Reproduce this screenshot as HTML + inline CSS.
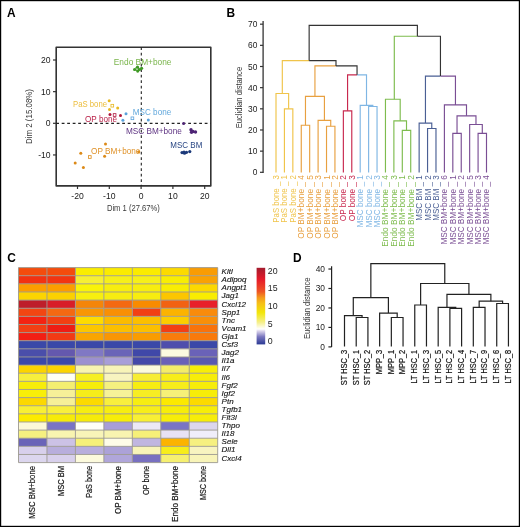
<!DOCTYPE html>
<html><head><meta charset="utf-8"><style>
html,body{margin:0;padding:0;background:#fff;}
#fig{position:relative;width:520px;height:527px;overflow:hidden;background:#fff;}
svg{position:absolute;left:0;top:0;will-change:transform;}
text{font-family:"Liberation Sans", sans-serif;}
</style></head><body><div id="fig">
<svg width="520" height="527" viewBox="0 0 520 527">
<rect x="0.6" y="0.6" width="518.8" height="525.8" fill="none" stroke="#000" stroke-width="1.2"/>
<text x="7.00" y="16.60" font-size="11.9" fill="#000" font-weight="bold" >A</text>
<text x="226.60" y="16.90" font-size="11.9" fill="#000" font-weight="bold" >B</text>
<text x="7.20" y="261.60" font-size="11.9" fill="#000" font-weight="bold" >C</text>
<text x="293.00" y="261.80" font-size="11.9" fill="#000" font-weight="bold" >D</text>
<rect x="56.2" y="47.3" width="154.6" height="138.6" fill="none" stroke="#333" stroke-width="1.6" stroke-linejoin="round"/>
<line x1="53.00" y1="60.00" x2="56.20" y2="60.00" stroke="#333" stroke-width="1.2" />
<text x="50.60" y="63.10" font-size="8.6" fill="#1a1a1a" text-anchor="end" >20</text>
<line x1="53.00" y1="91.65" x2="56.20" y2="91.65" stroke="#333" stroke-width="1.2" />
<text x="50.60" y="94.75" font-size="8.6" fill="#1a1a1a" text-anchor="end" >10</text>
<line x1="53.00" y1="123.30" x2="56.20" y2="123.30" stroke="#333" stroke-width="1.2" />
<text x="50.60" y="126.40" font-size="8.6" fill="#1a1a1a" text-anchor="end" >0</text>
<line x1="53.00" y1="154.95" x2="56.20" y2="154.95" stroke="#333" stroke-width="1.2" />
<text x="50.60" y="158.05" font-size="8.6" fill="#1a1a1a" text-anchor="end" >-10</text>
<line x1="77.50" y1="185.90" x2="77.50" y2="189.00" stroke="#333" stroke-width="1.2" />
<text x="77.50" y="198.80" font-size="8.6" fill="#1a1a1a" text-anchor="middle" >-20</text>
<line x1="109.30" y1="185.90" x2="109.30" y2="189.00" stroke="#333" stroke-width="1.2" />
<text x="109.30" y="198.80" font-size="8.6" fill="#1a1a1a" text-anchor="middle" >-10</text>
<line x1="141.10" y1="185.90" x2="141.10" y2="189.00" stroke="#333" stroke-width="1.2" />
<text x="141.10" y="198.80" font-size="8.6" fill="#1a1a1a" text-anchor="middle" >0</text>
<line x1="172.90" y1="185.90" x2="172.90" y2="189.00" stroke="#333" stroke-width="1.2" />
<text x="172.90" y="198.80" font-size="8.6" fill="#1a1a1a" text-anchor="middle" >10</text>
<line x1="204.70" y1="185.90" x2="204.70" y2="189.00" stroke="#333" stroke-width="1.2" />
<text x="204.70" y="198.80" font-size="8.6" fill="#1a1a1a" text-anchor="middle" >20</text>
<text x="133.40" y="211.30" font-size="9.2" fill="#3a3a3a" text-anchor="middle" textLength="53.00" lengthAdjust="spacingAndGlyphs" >Dim 1 (27.67%)</text>
<text x="32.10" y="116.50" font-size="9.2" fill="#3a3a3a" text-anchor="middle" transform="rotate(-90 32.10 116.50)" textLength="55.00" lengthAdjust="spacingAndGlyphs" >Dim 2 (15.08%)</text>
<line x1="56.20" y1="123.40" x2="210.80" y2="123.40" stroke="#222" stroke-width="1.1" stroke-dasharray="2.8 2.7"/>
<line x1="141.30" y1="47.30" x2="141.30" y2="185.90" stroke="#222" stroke-width="1.1" stroke-dasharray="2.8 2.7"/>
<text x="113.80" y="64.50" font-size="8.4" fill="#7ab54c" textLength="57.70" lengthAdjust="spacingAndGlyphs" >Endo BM+bone</text>
<text x="73.00" y="107.30" font-size="8.4" fill="#ecbd3c" textLength="34.00" lengthAdjust="spacingAndGlyphs" >PaS bone</text>
<text x="85.00" y="121.80" font-size="8.4" fill="#b81d45" textLength="32.00" lengthAdjust="spacingAndGlyphs" >OP bone</text>
<text x="132.80" y="115.30" font-size="8.4" fill="#62a8dc" textLength="38.40" lengthAdjust="spacingAndGlyphs" >MSC bone</text>
<text x="125.90" y="133.80" font-size="8.4" fill="#5e3382" textLength="55.90" lengthAdjust="spacingAndGlyphs" >MSC BM+bone</text>
<text x="170.30" y="148.20" font-size="8.4" fill="#2a4784" textLength="32.00" lengthAdjust="spacingAndGlyphs" >MSC BM</text>
<text x="91.10" y="154.30" font-size="8.4" fill="#df9127" textLength="49.30" lengthAdjust="spacingAndGlyphs" >OP BM+bone</text>
<circle cx="137.50" cy="67.20" r="1.6" fill="#3f9a25"/>
<circle cx="134.60" cy="69.50" r="1.6" fill="#3f9a25"/>
<circle cx="137.70" cy="71.10" r="1.6" fill="#3f9a25"/>
<circle cx="141.60" cy="68.30" r="1.6" fill="#3f9a25"/>
<circle cx="139.50" cy="69.50" r="1.6" fill="#3f9a25"/>
<rect x="135.90" y="67.70" width="2.6" height="2.6" fill="none" stroke="#3f9a25" stroke-width="0.8"/>
<circle cx="109.20" cy="100.80" r="1.5" fill="#e8b820"/>
<circle cx="117.70" cy="108.00" r="1.5" fill="#e8b820"/>
<circle cx="109.50" cy="109.50" r="1.5" fill="#e8b820"/>
<rect x="110.95" y="104.35" width="2.7" height="2.7" fill="none" stroke="#e8b820" stroke-width="0.8"/>
<circle cx="110.00" cy="114.60" r="1.5" fill="#b0163c"/>
<circle cx="120.50" cy="115.40" r="1.5" fill="#b0163c"/>
<rect x="113.25" y="113.65" width="2.7" height="2.7" fill="none" stroke="#b0163c" stroke-width="0.8"/>
<circle cx="126.00" cy="113.70" r="1.5" fill="#5aa2dc"/>
<circle cx="122.90" cy="120.30" r="1.5" fill="#5aa2dc"/>
<circle cx="148.30" cy="120.10" r="1.5" fill="#5aa2dc"/>
<rect x="131.05" y="116.95" width="2.7" height="2.7" fill="none" stroke="#5aa2dc" stroke-width="0.8"/>
<circle cx="183.60" cy="123.40" r="1.5" fill="#4e2475"/>
<circle cx="191.00" cy="129.80" r="1.7" fill="#4e2475"/>
<circle cx="193.00" cy="131.50" r="1.7" fill="#4e2475"/>
<circle cx="195.50" cy="132.00" r="1.7" fill="#4e2475"/>
<circle cx="191.50" cy="132.20" r="1.7" fill="#4e2475"/>
<circle cx="182.00" cy="152.60" r="1.6" fill="#1c3a7a"/>
<circle cx="184.50" cy="153.20" r="1.6" fill="#1c3a7a"/>
<circle cx="186.50" cy="152.30" r="1.6" fill="#1c3a7a"/>
<circle cx="189.80" cy="151.60" r="1.6" fill="#1c3a7a"/>
<circle cx="184.00" cy="152.00" r="1.6" fill="#1c3a7a"/>
<circle cx="105.50" cy="144.00" r="1.5" fill="#dc8a18"/>
<circle cx="80.80" cy="153.20" r="1.5" fill="#dc8a18"/>
<circle cx="104.60" cy="156.30" r="1.5" fill="#dc8a18"/>
<circle cx="75.20" cy="163.00" r="1.5" fill="#dc8a18"/>
<circle cx="83.40" cy="167.50" r="1.5" fill="#dc8a18"/>
<circle cx="138.70" cy="151.80" r="1.5" fill="#dc8a18"/>
<rect x="88.45" y="155.65" width="2.7" height="2.7" fill="none" stroke="#dc8a18" stroke-width="0.8"/>
<line x1="263.10" y1="21.00" x2="263.10" y2="173.00" stroke="#333" stroke-width="1.3" />
<line x1="260.00" y1="172.30" x2="263.10" y2="172.30" stroke="#333" stroke-width="1.2" />
<text x="257.40" y="175.30" font-size="8.4" fill="#1a1a1a" text-anchor="end" >0</text>
<line x1="260.00" y1="151.14" x2="263.10" y2="151.14" stroke="#333" stroke-width="1.2" />
<text x="257.40" y="154.14" font-size="8.4" fill="#1a1a1a" text-anchor="end" >10</text>
<line x1="260.00" y1="129.98" x2="263.10" y2="129.98" stroke="#333" stroke-width="1.2" />
<text x="257.40" y="132.98" font-size="8.4" fill="#1a1a1a" text-anchor="end" >20</text>
<line x1="260.00" y1="108.82" x2="263.10" y2="108.82" stroke="#333" stroke-width="1.2" />
<text x="257.40" y="111.82" font-size="8.4" fill="#1a1a1a" text-anchor="end" >30</text>
<line x1="260.00" y1="87.66" x2="263.10" y2="87.66" stroke="#333" stroke-width="1.2" />
<text x="257.40" y="90.66" font-size="8.4" fill="#1a1a1a" text-anchor="end" >40</text>
<line x1="260.00" y1="66.50" x2="263.10" y2="66.50" stroke="#333" stroke-width="1.2" />
<text x="257.40" y="69.50" font-size="8.4" fill="#1a1a1a" text-anchor="end" >50</text>
<line x1="260.00" y1="45.34" x2="263.10" y2="45.34" stroke="#333" stroke-width="1.2" />
<text x="257.40" y="48.34" font-size="8.4" fill="#1a1a1a" text-anchor="end" >60</text>
<line x1="260.00" y1="24.18" x2="263.10" y2="24.18" stroke="#333" stroke-width="1.2" />
<text x="257.40" y="27.18" font-size="8.4" fill="#1a1a1a" text-anchor="end" >70</text>
<text x="241.90" y="97.60" font-size="9.3" fill="#333" text-anchor="middle" transform="rotate(-90 241.90 97.60)" textLength="61.50" lengthAdjust="spacingAndGlyphs" >Euclidian distance</text>
<path d="M284.42 172.60V108.80H292.84V172.60" fill="none" stroke="#f0c44a" stroke-width="1.15"/>
<path d="M276.00 172.60V93.50H288.63V108.80" fill="none" stroke="#f0c44a" stroke-width="1.15"/>
<path d="M301.26 172.60V125.20H309.68V172.60" fill="none" stroke="#e8a040" stroke-width="1.15"/>
<path d="M326.52 172.60V126.20H334.94V172.60" fill="none" stroke="#e8a040" stroke-width="1.15"/>
<path d="M318.10 172.60V120.40H330.73V126.20" fill="none" stroke="#e8a040" stroke-width="1.15"/>
<path d="M305.47 125.20V96.30H324.42V120.40" fill="none" stroke="#e8a040" stroke-width="1.15"/>
<path d="M343.36 172.60V110.80H351.78V172.60" fill="none" stroke="#c8284e" stroke-width="1.15"/>
<path d="M368.62 172.60V106.50H377.04V172.60" fill="none" stroke="#7fb6e4" stroke-width="1.15"/>
<path d="M360.20 172.60V105.40H372.83V106.50" fill="none" stroke="#7fb6e4" stroke-width="1.15"/>
<path d="M347.57 110.8V74.8H357.04" fill="none" stroke="#c8284e" stroke-width="1.15"/>
<path d="M357.04 74.8H366.51V105.4" fill="none" stroke="#7fb6e4" stroke-width="1.15"/>
<path d="M314.94 96.3V65.9H335.99" fill="none" stroke="#e8a040" stroke-width="1.15"/>
<path d="M335.99 65.9H357.04V74.8" fill="none" stroke="#333333" stroke-width="1.15"/>
<path d="M282.31 93.5V60.6H309.15" fill="none" stroke="#f0c44a" stroke-width="1.15"/>
<path d="M309.15 60.6H335.99V65.9" fill="none" stroke="#333333" stroke-width="1.15"/>
<path d="M402.30 172.60V130.40H410.72V172.60" fill="none" stroke="#7ebc4e" stroke-width="1.15"/>
<path d="M393.88 172.60V120.80H406.51V130.40" fill="none" stroke="#7ebc4e" stroke-width="1.15"/>
<path d="M385.46 172.60V99.20H400.19V120.80" fill="none" stroke="#7ebc4e" stroke-width="1.15"/>
<path d="M427.56 172.60V128.50H435.98V172.60" fill="none" stroke="#4a5f94" stroke-width="1.15"/>
<path d="M419.14 172.60V123.10H431.77V128.50" fill="none" stroke="#4a5f94" stroke-width="1.15"/>
<path d="M452.82 172.60V133.30H461.24V172.60" fill="none" stroke="#7a4e94" stroke-width="1.15"/>
<path d="M478.08 172.60V133.30H486.50V172.60" fill="none" stroke="#7a4e94" stroke-width="1.15"/>
<path d="M469.66 172.60V124.50H482.29V133.30" fill="none" stroke="#7a4e94" stroke-width="1.15"/>
<path d="M457.03 133.30V115.80H475.97V124.50" fill="none" stroke="#7a4e94" stroke-width="1.15"/>
<path d="M444.40 172.60V104.90H466.50V115.80" fill="none" stroke="#7a4e94" stroke-width="1.15"/>
<path d="M425.45 123.1V76.1H440.45" fill="none" stroke="#4a5f94" stroke-width="1.15"/>
<path d="M440.45 76.1H455.45V104.9" fill="none" stroke="#7a4e94" stroke-width="1.15"/>
<path d="M394.30 99.2V36.2H417.38" fill="none" stroke="#7ebc4e" stroke-width="1.15"/>
<path d="M417.38 36.2H440.45V76.1" fill="none" stroke="#333333" stroke-width="1.15"/>
<path d="M309.15 60.60V25.40H417.38V36.20" fill="none" stroke="#333333" stroke-width="1.15"/>
<text x="279.00" y="175.20" font-size="8.2" fill="#f0c44a" text-anchor="end" transform="rotate(-90 279.00 175.20)" textLength="47.50" lengthAdjust="spacingAndGlyphs" >PaS bone _ 3</text>
<text x="287.42" y="175.20" font-size="8.2" fill="#f0c44a" text-anchor="end" transform="rotate(-90 287.42 175.20)" textLength="47.50" lengthAdjust="spacingAndGlyphs" >PaS bone _ 1</text>
<text x="295.84" y="175.20" font-size="8.2" fill="#f0c44a" text-anchor="end" transform="rotate(-90 295.84 175.20)" textLength="47.50" lengthAdjust="spacingAndGlyphs" >PaS bone _ 2</text>
<text x="304.26" y="175.20" font-size="8.2" fill="#e8a040" text-anchor="end" transform="rotate(-90 304.26 175.20)" textLength="63.60" lengthAdjust="spacingAndGlyphs" >OP BM+bone _ 4</text>
<text x="312.68" y="175.20" font-size="8.2" fill="#e8a040" text-anchor="end" transform="rotate(-90 312.68 175.20)" textLength="63.60" lengthAdjust="spacingAndGlyphs" >OP BM+bone _ 5</text>
<text x="321.10" y="175.20" font-size="8.2" fill="#e8a040" text-anchor="end" transform="rotate(-90 321.10 175.20)" textLength="63.60" lengthAdjust="spacingAndGlyphs" >OP BM+bone _ 3</text>
<text x="329.52" y="175.20" font-size="8.2" fill="#e8a040" text-anchor="end" transform="rotate(-90 329.52 175.20)" textLength="63.60" lengthAdjust="spacingAndGlyphs" >OP BM+bone _ 1</text>
<text x="337.94" y="175.20" font-size="8.2" fill="#e8a040" text-anchor="end" transform="rotate(-90 337.94 175.20)" textLength="63.60" lengthAdjust="spacingAndGlyphs" >OP BM+bone _ 2</text>
<text x="346.36" y="175.20" font-size="8.2" fill="#c8284e" text-anchor="end" transform="rotate(-90 346.36 175.20)" textLength="46.00" lengthAdjust="spacingAndGlyphs" >OP bone _ 2</text>
<text x="354.78" y="175.20" font-size="8.2" fill="#c8284e" text-anchor="end" transform="rotate(-90 354.78 175.20)" textLength="46.00" lengthAdjust="spacingAndGlyphs" >OP bone _ 3</text>
<text x="363.20" y="175.20" font-size="8.2" fill="#7fb6e4" text-anchor="end" transform="rotate(-90 363.20 175.20)" textLength="52.30" lengthAdjust="spacingAndGlyphs" >MSC bone _ 1</text>
<text x="371.62" y="175.20" font-size="8.2" fill="#7fb6e4" text-anchor="end" transform="rotate(-90 371.62 175.20)" textLength="52.30" lengthAdjust="spacingAndGlyphs" >MSC bone _ 2</text>
<text x="380.04" y="175.20" font-size="8.2" fill="#7fb6e4" text-anchor="end" transform="rotate(-90 380.04 175.20)" textLength="52.30" lengthAdjust="spacingAndGlyphs" >MSC bone _ 3</text>
<text x="388.46" y="175.20" font-size="8.2" fill="#7ebc4e" text-anchor="end" transform="rotate(-90 388.46 175.20)" textLength="71.50" lengthAdjust="spacingAndGlyphs" >Endo BM+bone _ 4</text>
<text x="396.88" y="175.20" font-size="8.2" fill="#7ebc4e" text-anchor="end" transform="rotate(-90 396.88 175.20)" textLength="71.50" lengthAdjust="spacingAndGlyphs" >Endo BM+bone _ 3</text>
<text x="405.30" y="175.20" font-size="8.2" fill="#7ebc4e" text-anchor="end" transform="rotate(-90 405.30 175.20)" textLength="71.50" lengthAdjust="spacingAndGlyphs" >Endo BM+bone _ 1</text>
<text x="413.72" y="175.20" font-size="8.2" fill="#7ebc4e" text-anchor="end" transform="rotate(-90 413.72 175.20)" textLength="71.50" lengthAdjust="spacingAndGlyphs" >Endo BM+bone _ 2</text>
<text x="422.14" y="175.20" font-size="8.2" fill="#4a5f94" text-anchor="end" transform="rotate(-90 422.14 175.20)" textLength="45.50" lengthAdjust="spacingAndGlyphs" >MSC BM _ 1</text>
<text x="430.56" y="175.20" font-size="8.2" fill="#4a5f94" text-anchor="end" transform="rotate(-90 430.56 175.20)" textLength="45.50" lengthAdjust="spacingAndGlyphs" >MSC BM _ 2</text>
<text x="438.98" y="175.20" font-size="8.2" fill="#4a5f94" text-anchor="end" transform="rotate(-90 438.98 175.20)" textLength="45.50" lengthAdjust="spacingAndGlyphs" >MSC BM _ 3</text>
<text x="447.40" y="175.20" font-size="8.2" fill="#7a4e94" text-anchor="end" transform="rotate(-90 447.40 175.20)" textLength="69.40" lengthAdjust="spacingAndGlyphs" >MSC BM+bone _ 6</text>
<text x="455.82" y="175.20" font-size="8.2" fill="#7a4e94" text-anchor="end" transform="rotate(-90 455.82 175.20)" textLength="69.40" lengthAdjust="spacingAndGlyphs" >MSC BM+bone _ 1</text>
<text x="464.24" y="175.20" font-size="8.2" fill="#7a4e94" text-anchor="end" transform="rotate(-90 464.24 175.20)" textLength="69.40" lengthAdjust="spacingAndGlyphs" >MSC BM+bone _ 2</text>
<text x="472.66" y="175.20" font-size="8.2" fill="#7a4e94" text-anchor="end" transform="rotate(-90 472.66 175.20)" textLength="69.40" lengthAdjust="spacingAndGlyphs" >MSC BM+bone _ 5</text>
<text x="481.08" y="175.20" font-size="8.2" fill="#7a4e94" text-anchor="end" transform="rotate(-90 481.08 175.20)" textLength="69.40" lengthAdjust="spacingAndGlyphs" >MSC BM+bone _ 3</text>
<text x="489.50" y="175.20" font-size="8.2" fill="#7a4e94" text-anchor="end" transform="rotate(-90 489.50 175.20)" textLength="69.40" lengthAdjust="spacingAndGlyphs" >MSC BM+bone _ 4</text>
<rect x="18.50" y="267.60" width="28.46" height="8.12" fill="#f44c0d"/>
<rect x="46.96" y="267.60" width="28.46" height="8.12" fill="#f44c0d"/>
<rect x="75.41" y="267.60" width="28.46" height="8.12" fill="#faed00"/>
<rect x="103.87" y="267.60" width="28.46" height="8.12" fill="#fbeb00"/>
<rect x="132.33" y="267.60" width="28.46" height="8.12" fill="#fbeb00"/>
<rect x="160.79" y="267.60" width="28.46" height="8.12" fill="#fcda00"/>
<rect x="189.24" y="267.60" width="28.46" height="8.12" fill="#f99c04"/>
<rect x="18.50" y="275.73" width="28.46" height="8.12" fill="#f23212"/>
<rect x="46.96" y="275.73" width="28.46" height="8.12" fill="#f23512"/>
<rect x="75.41" y="275.73" width="28.46" height="8.12" fill="#f6ef34"/>
<rect x="103.87" y="275.73" width="28.46" height="8.12" fill="#f6ef1a"/>
<rect x="132.33" y="275.73" width="28.46" height="8.12" fill="#f6ef1a"/>
<rect x="160.79" y="275.73" width="28.46" height="8.12" fill="#f8ed04"/>
<rect x="189.24" y="275.73" width="28.46" height="8.12" fill="#f9a104"/>
<rect x="18.50" y="283.85" width="28.46" height="8.12" fill="#fc9e00"/>
<rect x="46.96" y="283.85" width="28.46" height="8.12" fill="#fc9e00"/>
<rect x="75.41" y="283.85" width="28.46" height="8.12" fill="#f9f309"/>
<rect x="103.87" y="283.85" width="28.46" height="8.12" fill="#f7ed0f"/>
<rect x="132.33" y="283.85" width="28.46" height="8.12" fill="#f7ed0f"/>
<rect x="160.79" y="283.85" width="28.46" height="8.12" fill="#f8ed04"/>
<rect x="189.24" y="283.85" width="28.46" height="8.12" fill="#fcd800"/>
<rect x="18.50" y="291.98" width="28.46" height="8.12" fill="#fcd500"/>
<rect x="46.96" y="291.98" width="28.46" height="8.12" fill="#fcd100"/>
<rect x="75.41" y="291.98" width="28.46" height="8.12" fill="#f7ef0f"/>
<rect x="103.87" y="291.98" width="28.46" height="8.12" fill="#f7ed11"/>
<rect x="132.33" y="291.98" width="28.46" height="8.12" fill="#f7ed0f"/>
<rect x="160.79" y="291.98" width="28.46" height="8.12" fill="#fcc600"/>
<rect x="189.24" y="291.98" width="28.46" height="8.12" fill="#f9ed00"/>
<rect x="18.50" y="300.10" width="28.46" height="8.12" fill="#be1e2a"/>
<rect x="46.96" y="300.10" width="28.46" height="8.12" fill="#d81e28"/>
<rect x="75.41" y="300.10" width="28.46" height="8.12" fill="#f48509"/>
<rect x="103.87" y="300.10" width="28.46" height="8.12" fill="#f46912"/>
<rect x="132.33" y="300.10" width="28.46" height="8.12" fill="#f98b00"/>
<rect x="160.79" y="300.10" width="28.46" height="8.12" fill="#f26212"/>
<rect x="189.24" y="300.10" width="28.46" height="8.12" fill="#e8202a"/>
<rect x="18.50" y="308.23" width="28.46" height="8.12" fill="#f24612"/>
<rect x="46.96" y="308.23" width="28.46" height="8.12" fill="#f46912"/>
<rect x="75.41" y="308.23" width="28.46" height="8.12" fill="#f99604"/>
<rect x="103.87" y="308.23" width="28.46" height="8.12" fill="#f98f04"/>
<rect x="132.33" y="308.23" width="28.46" height="8.12" fill="#f23f14"/>
<rect x="160.79" y="308.23" width="28.46" height="8.12" fill="#fcb300"/>
<rect x="189.24" y="308.23" width="28.46" height="8.12" fill="#f98b0b"/>
<rect x="18.50" y="316.35" width="28.46" height="8.12" fill="#f42312"/>
<rect x="46.96" y="316.35" width="28.46" height="8.12" fill="#f23f12"/>
<rect x="75.41" y="316.35" width="28.46" height="8.12" fill="#fedb00"/>
<rect x="103.87" y="316.35" width="28.46" height="8.12" fill="#fcbb00"/>
<rect x="132.33" y="316.35" width="28.46" height="8.12" fill="#fcbf00"/>
<rect x="160.79" y="316.35" width="28.46" height="8.12" fill="#fccd00"/>
<rect x="189.24" y="316.35" width="28.46" height="8.12" fill="#f98f09"/>
<rect x="18.50" y="324.48" width="28.46" height="8.12" fill="#f23f14"/>
<rect x="46.96" y="324.48" width="28.46" height="8.12" fill="#ee1d14"/>
<rect x="75.41" y="324.48" width="28.46" height="8.12" fill="#fcc600"/>
<rect x="103.87" y="324.48" width="28.46" height="8.12" fill="#fcbf00"/>
<rect x="132.33" y="324.48" width="28.46" height="8.12" fill="#fcbf00"/>
<rect x="160.79" y="324.48" width="28.46" height="8.12" fill="#f23f14"/>
<rect x="189.24" y="324.48" width="28.46" height="8.12" fill="#f9730b"/>
<rect x="18.50" y="332.60" width="28.46" height="8.12" fill="#f21f14"/>
<rect x="46.96" y="332.60" width="28.46" height="8.12" fill="#f23a14"/>
<rect x="75.41" y="332.60" width="28.46" height="8.12" fill="#faa500"/>
<rect x="103.87" y="332.60" width="28.46" height="8.12" fill="#f99604"/>
<rect x="132.33" y="332.60" width="28.46" height="8.12" fill="#f99c00"/>
<rect x="160.79" y="332.60" width="28.46" height="8.12" fill="#f97c0b"/>
<rect x="189.24" y="332.60" width="28.46" height="8.12" fill="#f97a0b"/>
<rect x="18.50" y="340.73" width="28.46" height="8.12" fill="#3a48a8"/>
<rect x="46.96" y="340.73" width="28.46" height="8.12" fill="#3a48a8"/>
<rect x="75.41" y="340.73" width="28.46" height="8.12" fill="#3a48a8"/>
<rect x="103.87" y="340.73" width="28.46" height="8.12" fill="#3a48a8"/>
<rect x="132.33" y="340.73" width="28.46" height="8.12" fill="#3a48a8"/>
<rect x="160.79" y="340.73" width="28.46" height="8.12" fill="#4e4eac"/>
<rect x="189.24" y="340.73" width="28.46" height="8.12" fill="#3a48a8"/>
<rect x="18.50" y="348.85" width="28.46" height="8.12" fill="#4a4eaa"/>
<rect x="46.96" y="348.85" width="28.46" height="8.12" fill="#6458ae"/>
<rect x="75.41" y="348.85" width="28.46" height="8.12" fill="#8078c4"/>
<rect x="103.87" y="348.85" width="28.46" height="8.12" fill="#6a64b8"/>
<rect x="132.33" y="348.85" width="28.46" height="8.12" fill="#4048a8"/>
<rect x="160.79" y="348.85" width="28.46" height="8.12" fill="#fcfae0"/>
<rect x="189.24" y="348.85" width="28.46" height="8.12" fill="#6a62b8"/>
<rect x="18.50" y="356.98" width="28.46" height="8.12" fill="#3c48a8"/>
<rect x="46.96" y="356.98" width="28.46" height="8.12" fill="#3c48a8"/>
<rect x="75.41" y="356.98" width="28.46" height="8.12" fill="#9c90d0"/>
<rect x="103.87" y="356.98" width="28.46" height="8.12" fill="#a89ed8"/>
<rect x="132.33" y="356.98" width="28.46" height="8.12" fill="#4448a8"/>
<rect x="160.79" y="356.98" width="28.46" height="8.12" fill="#6a60b8"/>
<rect x="189.24" y="356.98" width="28.46" height="8.12" fill="#5a58b0"/>
<rect x="18.50" y="365.10" width="28.46" height="8.12" fill="#fcd400"/>
<rect x="46.96" y="365.10" width="28.46" height="8.12" fill="#fcd400"/>
<rect x="75.41" y="365.10" width="28.46" height="8.12" fill="#f8f4b0"/>
<rect x="103.87" y="365.10" width="28.46" height="8.12" fill="#f8f4b8"/>
<rect x="132.33" y="365.10" width="28.46" height="8.12" fill="#fcfadc"/>
<rect x="160.79" y="365.10" width="28.46" height="8.12" fill="#f4ec68"/>
<rect x="189.24" y="365.10" width="28.46" height="8.12" fill="#f7ed09"/>
<rect x="18.50" y="373.23" width="28.46" height="8.12" fill="#f7ef3d"/>
<rect x="46.96" y="373.23" width="28.46" height="8.12" fill="#fffff5"/>
<rect x="75.41" y="373.23" width="28.46" height="8.12" fill="#f6ef23"/>
<rect x="103.87" y="373.23" width="28.46" height="8.12" fill="#f8f4c0"/>
<rect x="132.33" y="373.23" width="28.46" height="8.12" fill="#f7ed34"/>
<rect x="160.79" y="373.23" width="28.46" height="8.12" fill="#f7ed1a"/>
<rect x="189.24" y="373.23" width="28.46" height="8.12" fill="#f7ed09"/>
<rect x="18.50" y="381.35" width="28.46" height="8.12" fill="#f7ed09"/>
<rect x="46.96" y="381.35" width="28.46" height="8.12" fill="#f4ee70"/>
<rect x="75.41" y="381.35" width="28.46" height="8.12" fill="#f6ed09"/>
<rect x="103.87" y="381.35" width="28.46" height="8.12" fill="#f5f080"/>
<rect x="132.33" y="381.35" width="28.46" height="8.12" fill="#f7ed11"/>
<rect x="160.79" y="381.35" width="28.46" height="8.12" fill="#f7ed1a"/>
<rect x="189.24" y="381.35" width="28.46" height="8.12" fill="#f7ed09"/>
<rect x="18.50" y="389.48" width="28.46" height="8.12" fill="#f8ef09"/>
<rect x="46.96" y="389.48" width="28.46" height="8.12" fill="#f6f098"/>
<rect x="75.41" y="389.48" width="28.46" height="8.12" fill="#f6ed1a"/>
<rect x="103.87" y="389.48" width="28.46" height="8.12" fill="#f6f298"/>
<rect x="132.33" y="389.48" width="28.46" height="8.12" fill="#f7ed23"/>
<rect x="160.79" y="389.48" width="28.46" height="8.12" fill="#f6f078"/>
<rect x="189.24" y="389.48" width="28.46" height="8.12" fill="#f7ed09"/>
<rect x="18.50" y="397.60" width="28.46" height="8.12" fill="#fcd800"/>
<rect x="46.96" y="397.60" width="28.46" height="8.12" fill="#f6f098"/>
<rect x="75.41" y="397.60" width="28.46" height="8.12" fill="#fcda00"/>
<rect x="103.87" y="397.60" width="28.46" height="8.12" fill="#f8ef3d"/>
<rect x="132.33" y="397.60" width="28.46" height="8.12" fill="#f7ed11"/>
<rect x="160.79" y="397.60" width="28.46" height="8.12" fill="#fce900"/>
<rect x="189.24" y="397.60" width="28.46" height="8.12" fill="#fcda00"/>
<rect x="18.50" y="405.73" width="28.46" height="8.12" fill="#f8ef34"/>
<rect x="46.96" y="405.73" width="28.46" height="8.12" fill="#f8ef3d"/>
<rect x="75.41" y="405.73" width="28.46" height="8.12" fill="#f6ed12"/>
<rect x="103.87" y="405.73" width="28.46" height="8.12" fill="#f7ed11"/>
<rect x="132.33" y="405.73" width="28.46" height="8.12" fill="#f7ed1a"/>
<rect x="160.79" y="405.73" width="28.46" height="8.12" fill="#f7ed09"/>
<rect x="189.24" y="405.73" width="28.46" height="8.12" fill="#f7ed09"/>
<rect x="18.50" y="413.85" width="28.46" height="8.12" fill="#fceb00"/>
<rect x="46.96" y="413.85" width="28.46" height="8.12" fill="#f6eb09"/>
<rect x="75.41" y="413.85" width="28.46" height="8.12" fill="#f6eb09"/>
<rect x="103.87" y="413.85" width="28.46" height="8.12" fill="#f7ed09"/>
<rect x="132.33" y="413.85" width="28.46" height="8.12" fill="#f8ef34"/>
<rect x="160.79" y="413.85" width="28.46" height="8.12" fill="#f7ed09"/>
<rect x="189.24" y="413.85" width="28.46" height="8.12" fill="#f7ed09"/>
<rect x="18.50" y="421.98" width="28.46" height="8.12" fill="#fcf8d8"/>
<rect x="46.96" y="421.98" width="28.46" height="8.12" fill="#7a74c4"/>
<rect x="75.41" y="421.98" width="28.46" height="8.12" fill="#fefef8"/>
<rect x="103.87" y="421.98" width="28.46" height="8.12" fill="#a89ed8"/>
<rect x="132.33" y="421.98" width="28.46" height="8.12" fill="#ece8f6"/>
<rect x="160.79" y="421.98" width="28.46" height="8.12" fill="#7a74c4"/>
<rect x="189.24" y="421.98" width="28.46" height="8.12" fill="#dcd6ee"/>
<rect x="18.50" y="430.10" width="28.46" height="8.12" fill="#f6f080"/>
<rect x="46.96" y="430.10" width="28.46" height="8.12" fill="#f8f4b0"/>
<rect x="75.41" y="430.10" width="28.46" height="8.12" fill="#f8f4b8"/>
<rect x="103.87" y="430.10" width="28.46" height="8.12" fill="#f8f4b0"/>
<rect x="132.33" y="430.10" width="28.46" height="8.12" fill="#f6f078"/>
<rect x="160.79" y="430.10" width="28.46" height="8.12" fill="#e8e2f4"/>
<rect x="189.24" y="430.10" width="28.46" height="8.12" fill="#f0eefa"/>
<rect x="18.50" y="438.23" width="28.46" height="8.12" fill="#6a64b8"/>
<rect x="46.96" y="438.23" width="28.46" height="8.12" fill="#ccc2e6"/>
<rect x="75.41" y="438.23" width="28.46" height="8.12" fill="#f6f078"/>
<rect x="103.87" y="438.23" width="28.46" height="8.12" fill="#fefce8"/>
<rect x="132.33" y="438.23" width="28.46" height="8.12" fill="#c0b6e0"/>
<rect x="160.79" y="438.23" width="28.46" height="8.12" fill="#fcb300"/>
<rect x="189.24" y="438.23" width="28.46" height="8.12" fill="#f6f080"/>
<rect x="18.50" y="446.35" width="28.46" height="8.12" fill="#d8d0ec"/>
<rect x="46.96" y="446.35" width="28.46" height="8.12" fill="#b8aedc"/>
<rect x="75.41" y="446.35" width="28.46" height="8.12" fill="#b8aedc"/>
<rect x="103.87" y="446.35" width="28.46" height="8.12" fill="#aca2d8"/>
<rect x="132.33" y="446.35" width="28.46" height="8.12" fill="#f8f4b8"/>
<rect x="160.79" y="446.35" width="28.46" height="8.12" fill="#f7ed1a"/>
<rect x="189.24" y="446.35" width="28.46" height="8.12" fill="#f8f4c0"/>
<rect x="18.50" y="454.48" width="28.46" height="8.12" fill="#dcd6ee"/>
<rect x="46.96" y="454.48" width="28.46" height="8.12" fill="#d8d0ec"/>
<rect x="75.41" y="454.48" width="28.46" height="8.12" fill="#fcfadc"/>
<rect x="103.87" y="454.48" width="28.46" height="8.12" fill="#b0a6da"/>
<rect x="132.33" y="454.48" width="28.46" height="8.12" fill="#7870c0"/>
<rect x="160.79" y="454.48" width="28.46" height="8.12" fill="#f6f070"/>
<rect x="189.24" y="454.48" width="28.46" height="8.12" fill="#f8f4b8"/>
<line x1="18.50" y1="267.60" x2="18.50" y2="462.60" stroke="#9c9890" stroke-width="0.9" />
<line x1="46.96" y1="267.60" x2="46.96" y2="462.60" stroke="#9c9890" stroke-width="0.9" />
<line x1="75.41" y1="267.60" x2="75.41" y2="462.60" stroke="#9c9890" stroke-width="0.9" />
<line x1="103.87" y1="267.60" x2="103.87" y2="462.60" stroke="#9c9890" stroke-width="0.9" />
<line x1="132.33" y1="267.60" x2="132.33" y2="462.60" stroke="#9c9890" stroke-width="0.9" />
<line x1="160.79" y1="267.60" x2="160.79" y2="462.60" stroke="#9c9890" stroke-width="0.9" />
<line x1="189.24" y1="267.60" x2="189.24" y2="462.60" stroke="#9c9890" stroke-width="0.9" />
<line x1="217.70" y1="267.60" x2="217.70" y2="462.60" stroke="#9c9890" stroke-width="0.9" />
<line x1="18.50" y1="267.60" x2="217.70" y2="267.60" stroke="#9c9890" stroke-width="0.9" />
<line x1="18.50" y1="275.73" x2="217.70" y2="275.73" stroke="#9c9890" stroke-width="0.9" />
<line x1="18.50" y1="283.85" x2="217.70" y2="283.85" stroke="#9c9890" stroke-width="0.9" />
<line x1="18.50" y1="291.98" x2="217.70" y2="291.98" stroke="#9c9890" stroke-width="0.9" />
<line x1="18.50" y1="300.10" x2="217.70" y2="300.10" stroke="#9c9890" stroke-width="0.9" />
<line x1="18.50" y1="308.23" x2="217.70" y2="308.23" stroke="#9c9890" stroke-width="0.9" />
<line x1="18.50" y1="316.35" x2="217.70" y2="316.35" stroke="#9c9890" stroke-width="0.9" />
<line x1="18.50" y1="324.48" x2="217.70" y2="324.48" stroke="#9c9890" stroke-width="0.9" />
<line x1="18.50" y1="332.60" x2="217.70" y2="332.60" stroke="#9c9890" stroke-width="0.9" />
<line x1="18.50" y1="340.73" x2="217.70" y2="340.73" stroke="#9c9890" stroke-width="0.9" />
<line x1="18.50" y1="348.85" x2="217.70" y2="348.85" stroke="#9c9890" stroke-width="0.9" />
<line x1="18.50" y1="356.98" x2="217.70" y2="356.98" stroke="#9c9890" stroke-width="0.9" />
<line x1="18.50" y1="365.10" x2="217.70" y2="365.10" stroke="#9c9890" stroke-width="0.9" />
<line x1="18.50" y1="373.23" x2="217.70" y2="373.23" stroke="#9c9890" stroke-width="0.9" />
<line x1="18.50" y1="381.35" x2="217.70" y2="381.35" stroke="#9c9890" stroke-width="0.9" />
<line x1="18.50" y1="389.48" x2="217.70" y2="389.48" stroke="#9c9890" stroke-width="0.9" />
<line x1="18.50" y1="397.60" x2="217.70" y2="397.60" stroke="#9c9890" stroke-width="0.9" />
<line x1="18.50" y1="405.73" x2="217.70" y2="405.73" stroke="#9c9890" stroke-width="0.9" />
<line x1="18.50" y1="413.85" x2="217.70" y2="413.85" stroke="#9c9890" stroke-width="0.9" />
<line x1="18.50" y1="421.98" x2="217.70" y2="421.98" stroke="#9c9890" stroke-width="0.9" />
<line x1="18.50" y1="430.10" x2="217.70" y2="430.10" stroke="#9c9890" stroke-width="0.9" />
<line x1="18.50" y1="438.23" x2="217.70" y2="438.23" stroke="#9c9890" stroke-width="0.9" />
<line x1="18.50" y1="446.35" x2="217.70" y2="446.35" stroke="#9c9890" stroke-width="0.9" />
<line x1="18.50" y1="454.48" x2="217.70" y2="454.48" stroke="#9c9890" stroke-width="0.9" />
<line x1="18.50" y1="462.60" x2="217.70" y2="462.60" stroke="#9c9890" stroke-width="0.9" />
<text x="221.60" y="274.16" font-size="8.0" fill="#111" font-style="italic" stroke="#111" stroke-width="0.12">Kitl</text>
<text x="221.60" y="282.27" font-size="8.0" fill="#111" font-style="italic" stroke="#111" stroke-width="0.12">Adipoq</text>
<text x="221.60" y="290.37" font-size="8.0" fill="#111" font-style="italic" stroke="#111" stroke-width="0.12">Angpt1</text>
<text x="221.60" y="298.48" font-size="8.0" fill="#111" font-style="italic" stroke="#111" stroke-width="0.12">Jag1</text>
<text x="221.60" y="306.58" font-size="8.0" fill="#111" font-style="italic" stroke="#111" stroke-width="0.12">Cxcl12</text>
<text x="221.60" y="314.69" font-size="8.0" fill="#111" font-style="italic" stroke="#111" stroke-width="0.12">Spp1</text>
<text x="221.60" y="322.79" font-size="8.0" fill="#111" font-style="italic" stroke="#111" stroke-width="0.12">Tnc</text>
<text x="221.60" y="330.90" font-size="8.0" fill="#111" font-style="italic" stroke="#111" stroke-width="0.12">Vcam1</text>
<text x="221.60" y="339.00" font-size="8.0" fill="#111" font-style="italic" stroke="#111" stroke-width="0.12">Gja1</text>
<text x="221.60" y="347.11" font-size="8.0" fill="#111" font-style="italic" stroke="#111" stroke-width="0.12">Csf3</text>
<text x="221.60" y="355.21" font-size="8.0" fill="#111" font-style="italic" stroke="#111" stroke-width="0.12">Jag2</text>
<text x="221.60" y="363.32" font-size="8.0" fill="#111" font-style="italic" stroke="#111" stroke-width="0.12">Il1a</text>
<text x="221.60" y="371.42" font-size="8.0" fill="#111" font-style="italic" stroke="#111" stroke-width="0.12">Il7</text>
<text x="221.60" y="379.53" font-size="8.0" fill="#111" font-style="italic" stroke="#111" stroke-width="0.12">Il6</text>
<text x="221.60" y="387.63" font-size="8.0" fill="#111" font-style="italic" stroke="#111" stroke-width="0.12">Fgf2</text>
<text x="221.60" y="395.74" font-size="8.0" fill="#111" font-style="italic" stroke="#111" stroke-width="0.12">Igf2</text>
<text x="221.60" y="403.84" font-size="8.0" fill="#111" font-style="italic" stroke="#111" stroke-width="0.12">Ptn</text>
<text x="221.60" y="411.95" font-size="8.0" fill="#111" font-style="italic" stroke="#111" stroke-width="0.12">Tgfb1</text>
<text x="221.60" y="420.05" font-size="8.0" fill="#111" font-style="italic" stroke="#111" stroke-width="0.12">Flt3l</text>
<text x="221.60" y="428.16" font-size="8.0" fill="#111" font-style="italic" stroke="#111" stroke-width="0.12">Thpo</text>
<text x="221.60" y="436.26" font-size="8.0" fill="#111" font-style="italic" stroke="#111" stroke-width="0.12">Il18</text>
<text x="221.60" y="444.37" font-size="8.0" fill="#111" font-style="italic" stroke="#111" stroke-width="0.12">Sele</text>
<text x="221.60" y="452.47" font-size="8.0" fill="#111" font-style="italic" stroke="#111" stroke-width="0.12">Dll1</text>
<text x="221.60" y="460.58" font-size="8.0" fill="#111" font-style="italic" stroke="#111" stroke-width="0.12">Cxcl4</text>
<text x="35.23" y="466.00" font-size="9.1" fill="#222" text-anchor="end" transform="rotate(-90 35.23 466.00)" textLength="52.70" lengthAdjust="spacingAndGlyphs" stroke="#111" stroke-width="0.2">MSC BM+bone</text>
<text x="63.69" y="466.00" font-size="9.1" fill="#222" text-anchor="end" transform="rotate(-90 63.69 466.00)" textLength="30.00" lengthAdjust="spacingAndGlyphs" stroke="#111" stroke-width="0.2">MSC BM</text>
<text x="92.14" y="466.00" font-size="9.1" fill="#222" text-anchor="end" transform="rotate(-90 92.14 466.00)" textLength="31.70" lengthAdjust="spacingAndGlyphs" stroke="#111" stroke-width="0.2">PaS bone</text>
<text x="120.60" y="466.00" font-size="9.1" fill="#222" text-anchor="end" transform="rotate(-90 120.60 466.00)" textLength="48.00" lengthAdjust="spacingAndGlyphs" stroke="#111" stroke-width="0.2">OP BM+bone</text>
<text x="149.06" y="466.00" font-size="9.1" fill="#222" text-anchor="end" transform="rotate(-90 149.06 466.00)" textLength="29.00" lengthAdjust="spacingAndGlyphs" stroke="#111" stroke-width="0.2">OP bone</text>
<text x="177.51" y="466.00" font-size="9.1" fill="#222" text-anchor="end" transform="rotate(-90 177.51 466.00)" textLength="56.00" lengthAdjust="spacingAndGlyphs" stroke="#111" stroke-width="0.2">Endo BM+bone</text>
<text x="205.97" y="466.00" font-size="9.1" fill="#222" text-anchor="end" transform="rotate(-90 205.97 466.00)" textLength="34.00" lengthAdjust="spacingAndGlyphs" stroke="#111" stroke-width="0.2">MSC bone</text>
<defs><linearGradient id="cb" x1="0" y1="0" x2="0" y2="1"><stop offset="0" stop-color="#a31b2d"/><stop offset="0.15" stop-color="#e61a2a"/><stop offset="0.31" stop-color="#ee5524"/><stop offset="0.39" stop-color="#f49a1c"/><stop offset="0.46" stop-color="#f6be18"/><stop offset="0.585" stop-color="#f2e60a"/><stop offset="0.71" stop-color="#f5ef88"/><stop offset="0.80" stop-color="#ffffff"/><stop offset="0.825" stop-color="#dcd5ec"/><stop offset="0.90" stop-color="#7a76be"/><stop offset="1" stop-color="#2b3a94"/></linearGradient></defs>
<rect x="256.6" y="267.8" width="8.6" height="76.6" fill="url(#cb)"/>
<text x="267.80" y="273.90" font-size="8.8" fill="#222" >20</text>
<text x="267.80" y="291.20" font-size="8.8" fill="#222" >15</text>
<text x="267.80" y="308.80" font-size="8.8" fill="#222" >10</text>
<text x="267.80" y="326.50" font-size="8.8" fill="#222" >5</text>
<text x="267.80" y="344.20" font-size="8.8" fill="#222" >0</text>
<line x1="331.60" y1="266.20" x2="331.60" y2="347.00" stroke="#222" stroke-width="1.2" />
<line x1="328.40" y1="346.90" x2="331.60" y2="346.90" stroke="#222" stroke-width="1.2" />
<text x="325.00" y="349.90" font-size="8.4" fill="#222" text-anchor="end" >0</text>
<line x1="328.40" y1="327.43" x2="331.60" y2="327.43" stroke="#222" stroke-width="1.2" />
<text x="325.00" y="330.43" font-size="8.4" fill="#222" text-anchor="end" >10</text>
<line x1="328.40" y1="307.96" x2="331.60" y2="307.96" stroke="#222" stroke-width="1.2" />
<text x="325.00" y="310.96" font-size="8.4" fill="#222" text-anchor="end" >20</text>
<line x1="328.40" y1="288.49" x2="331.60" y2="288.49" stroke="#222" stroke-width="1.2" />
<text x="325.00" y="291.49" font-size="8.4" fill="#222" text-anchor="end" >30</text>
<line x1="328.40" y1="269.02" x2="331.60" y2="269.02" stroke="#222" stroke-width="1.2" />
<text x="325.00" y="272.02" font-size="8.4" fill="#222" text-anchor="end" >40</text>
<text x="310.40" y="308.20" font-size="9.3" fill="#333" text-anchor="middle" transform="rotate(-90 310.40 308.20)" textLength="61.60" lengthAdjust="spacingAndGlyphs" >Euclidian distance</text>
<path d="M356.21 346.50V317.50H367.92V346.50" fill="none" stroke="#222" stroke-width="1.2"/>
<path d="M344.50 346.50V315.60H362.06V317.50" fill="none" stroke="#222" stroke-width="1.2"/>
<path d="M391.34 346.50V317.50H403.05V346.50" fill="none" stroke="#222" stroke-width="1.2"/>
<path d="M379.63 346.50V313.10H397.20V317.50" fill="none" stroke="#222" stroke-width="1.2"/>
<path d="M353.28 315.60V297.70H388.41V313.10" fill="none" stroke="#222" stroke-width="1.2"/>
<path d="M414.76 346.50V305.00H426.47V346.50" fill="none" stroke="#222" stroke-width="1.2"/>
<path d="M449.89 346.50V308.30H461.60V346.50" fill="none" stroke="#222" stroke-width="1.2"/>
<path d="M438.18 346.50V307.30H455.75V308.30" fill="none" stroke="#222" stroke-width="1.2"/>
<path d="M473.31 346.50V307.30H485.02V346.50" fill="none" stroke="#222" stroke-width="1.2"/>
<path d="M496.73 346.50V303.50H508.44V346.50" fill="none" stroke="#222" stroke-width="1.2"/>
<path d="M479.16 307.30V301.20H502.59V303.50" fill="none" stroke="#222" stroke-width="1.2"/>
<path d="M446.96 307.30V294.40H490.88V301.20" fill="none" stroke="#222" stroke-width="1.2"/>
<path d="M420.62 305.00V283.50H468.92V294.40" fill="none" stroke="#222" stroke-width="1.2"/>
<path d="M370.85 297.70V263.70H444.77V283.50" fill="none" stroke="#222" stroke-width="1.2"/>
<text x="346.90" y="349.80" font-size="8.6" fill="#111" text-anchor="end" transform="rotate(-90 346.90 349.80)" textLength="35.50" lengthAdjust="spacingAndGlyphs" stroke="#111" stroke-width="0.2">ST HSC_3</text>
<text x="358.61" y="349.80" font-size="8.6" fill="#111" text-anchor="end" transform="rotate(-90 358.61 349.80)" textLength="35.50" lengthAdjust="spacingAndGlyphs" stroke="#111" stroke-width="0.2">ST HSC_1</text>
<text x="370.32" y="349.80" font-size="8.6" fill="#111" text-anchor="end" transform="rotate(-90 370.32 349.80)" textLength="35.50" lengthAdjust="spacingAndGlyphs" stroke="#111" stroke-width="0.2">ST HSC_2</text>
<text x="382.03" y="349.80" font-size="8.6" fill="#111" text-anchor="end" transform="rotate(-90 382.03 349.80)" textLength="24.50" lengthAdjust="spacingAndGlyphs" stroke="#111" stroke-width="0.2">MPP_3</text>
<text x="393.74" y="349.80" font-size="8.6" fill="#111" text-anchor="end" transform="rotate(-90 393.74 349.80)" textLength="24.50" lengthAdjust="spacingAndGlyphs" stroke="#111" stroke-width="0.2">MPP_1</text>
<text x="405.45" y="349.80" font-size="8.6" fill="#111" text-anchor="end" transform="rotate(-90 405.45 349.80)" textLength="24.50" lengthAdjust="spacingAndGlyphs" stroke="#111" stroke-width="0.2">MPP_2</text>
<text x="417.16" y="349.80" font-size="8.6" fill="#111" text-anchor="end" transform="rotate(-90 417.16 349.80)" textLength="33.80" lengthAdjust="spacingAndGlyphs" stroke="#111" stroke-width="0.2">LT HSC_1</text>
<text x="428.87" y="349.80" font-size="8.6" fill="#111" text-anchor="end" transform="rotate(-90 428.87 349.80)" textLength="33.80" lengthAdjust="spacingAndGlyphs" stroke="#111" stroke-width="0.2">LT HSC_3</text>
<text x="440.58" y="349.80" font-size="8.6" fill="#111" text-anchor="end" transform="rotate(-90 440.58 349.80)" textLength="33.80" lengthAdjust="spacingAndGlyphs" stroke="#111" stroke-width="0.2">LT HSC_5</text>
<text x="452.29" y="349.80" font-size="8.6" fill="#111" text-anchor="end" transform="rotate(-90 452.29 349.80)" textLength="33.80" lengthAdjust="spacingAndGlyphs" stroke="#111" stroke-width="0.2">LT HSC_2</text>
<text x="464.00" y="349.80" font-size="8.6" fill="#111" text-anchor="end" transform="rotate(-90 464.00 349.80)" textLength="33.80" lengthAdjust="spacingAndGlyphs" stroke="#111" stroke-width="0.2">LT HSC_4</text>
<text x="475.71" y="349.80" font-size="8.6" fill="#111" text-anchor="end" transform="rotate(-90 475.71 349.80)" textLength="33.80" lengthAdjust="spacingAndGlyphs" stroke="#111" stroke-width="0.2">LT HSC_7</text>
<text x="487.42" y="349.80" font-size="8.6" fill="#111" text-anchor="end" transform="rotate(-90 487.42 349.80)" textLength="33.80" lengthAdjust="spacingAndGlyphs" stroke="#111" stroke-width="0.2">LT HSC_9</text>
<text x="499.13" y="349.80" font-size="8.6" fill="#111" text-anchor="end" transform="rotate(-90 499.13 349.80)" textLength="33.80" lengthAdjust="spacingAndGlyphs" stroke="#111" stroke-width="0.2">LT HSC_6</text>
<text x="510.84" y="349.80" font-size="8.6" fill="#111" text-anchor="end" transform="rotate(-90 510.84 349.80)" textLength="33.80" lengthAdjust="spacingAndGlyphs" stroke="#111" stroke-width="0.2">LT HSC_8</text>
</svg></div></body></html>
